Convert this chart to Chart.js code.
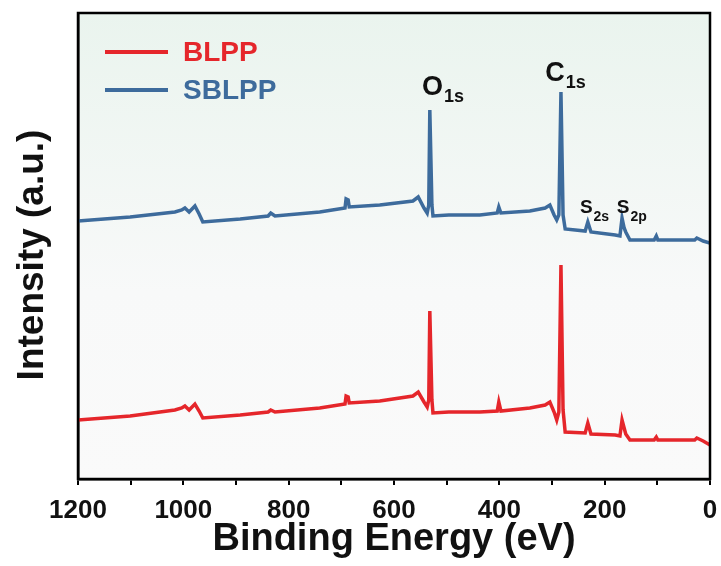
<!DOCTYPE html>
<html>
<head>
<meta charset="utf-8">
<script src="https://cdn.jsdelivr.net/npm/chart.js@4"></script>
<style>
  html, body { margin: 0; padding: 0; background: #fff; }
  #wrap { width: 721px; height: 566px; }
</style>
</head>
<body>
<div id="wrap"><canvas id="xps"></canvas></div>
<script>
// binding energy (eV), shared by both spectra
const energy = [1200, 1101, 1016, 1003, 997, 989, 978, 970, 963, 892, 839, 834, 826, 741, 693, 691, 687, 685,
  627, 564, 554, 543, 537, 534, 532, 528, 526, 496, 437, 404, 401, 397, 342, 313, 304, 296, 291, 287, 283, 279,
  275, 237, 232, 226, 180, 171, 167, 163, 160, 152, 106, 102, 99, 29, 25, 13, 0];

const sblpp = [258, 262, 267, 269, 271, 267, 273, 265, 257, 260, 263, 266, 263, 267, 271, 280, 279, 272,
  274, 278, 282, 271, 266, 274, 369, 274, 263, 264, 264, 266, 272, 266, 268, 271, 274, 264, 259, 264, 387, 264,
  250, 248, 257, 247, 244, 243, 261, 251, 247, 239, 239, 243, 239, 239, 241, 238, 236];

const blpp = [59, 63, 69, 71, 73, 69, 75, 68, 61, 64, 67, 69, 67, 71, 75, 83, 82, 76,
  78, 83, 87, 77, 72, 79, 168, 79, 66, 67, 67, 68, 77, 68, 71, 74, 77, 67, 59, 67, 214, 69,
  47, 46, 56, 45, 44, 43, 59, 51, 45, 39, 39, 42, 39, 39, 41, 38, 34];

const xTicks = [1200, 1000, 800, 600, 400, 200, 0];

// peak labels: [main, subscript, energy, intensity, big?]
const peakLabels = [
  ['O', '1s', 547, 384, true],
  ['C', '1s', 313, 398, true],
  ['S', '2s', 247, 266, false],
  ['S', '2p', 177, 266, false]
];

const RED = '#e5262b';
const BLUE = '#3d6b9c';
const FONT = 'Arial, "Liberation Sans", sans-serif';

const toPts = arr => arr.map((v, i) => ({ x: energy[i], y: v }));

const bgPlugin = {
  id: 'bg',
  beforeDraw(chart) {
    const { ctx, chartArea: a } = chart;
    const g = ctx.createLinearGradient(0, a.top, 0, a.bottom);
    g.addColorStop(0, 'rgb(234,244,238)');
    g.addColorStop(0.6, 'rgb(248,249,249)');
    g.addColorStop(1, 'rgb(250,250,250)');
    ctx.save();
    ctx.fillStyle = g;
    ctx.fillRect(a.left, a.top, a.right - a.left, a.bottom - a.top);
    ctx.restore();
  },
  afterDraw(chart) {
    const { ctx, chartArea: a } = chart;
    ctx.save();
    ctx.strokeStyle = '#000';
    ctx.lineWidth = 2.5;
    ctx.strokeRect(a.left, a.top, a.right - a.left, a.bottom - a.top);
    // y axis title
    ctx.translate(33, 255);
    ctx.rotate(-Math.PI / 2);
    ctx.fillStyle = '#111';
    ctx.font = 'bold 37px ' + FONT;
    ctx.textAlign = 'center';
    ctx.textBaseline = 'middle';
    ctx.fillText('Intensity (a.u.)', 0, 0);
    ctx.restore();
  }
};

const labelPlugin = {
  id: 'labels',
  afterDatasetsDraw(chart) {
    const { ctx } = chart;
    const xs = chart.scales.x, ys = chart.scales.y;
    ctx.save();
    ctx.fillStyle = '#111';
    ctx.textBaseline = 'alphabetic';
    ctx.textAlign = 'left';
    peakLabels.forEach(([main, sub, e, v, big]) => {
      const x = xs.getPixelForValue(e);
      const y = ys.getPixelForValue(v);
      ctx.font = 'bold ' + (big ? 27 : 19) + 'px ' + FONT;
      ctx.fillText(main, x, y);
      const w = ctx.measureText(main).width;
      ctx.font = 'bold ' + (big ? 18 : 14) + 'px ' + FONT;
      ctx.fillText(sub, x + w + 1, y + (big ? 7 : 8));
    });

    // legend
    const items = [['BLPP', RED], ['SBLPP', BLUE]];
    items.forEach(([name, col], i) => {
      const y = 52 + i * 38;
      ctx.strokeStyle = col;
      ctx.lineWidth = 4;
      ctx.beginPath();
      ctx.moveTo(105, y);
      ctx.lineTo(168, y);
      ctx.stroke();
      ctx.fillStyle = col;
      ctx.font = 'bold 28px ' + FONT;
      ctx.textBaseline = 'middle';
      ctx.fillText(name, 183, y + 1);
    });
    ctx.restore();
  }
};

new Chart(document.getElementById('xps'), {
  type: 'line',
  data: {
    datasets: [
      { label: 'BLPP', data: toPts(blpp), borderColor: RED, borderWidth: 3.5, pointRadius: 0, tension: 0 },
      { label: 'SBLPP', data: toPts(sblpp), borderColor: BLUE, borderWidth: 3.5, pointRadius: 0, tension: 0 }
    ]
  },
  options: {
    responsive: true,
    maintainAspectRatio: false,
    animation: false,
    layout: { padding: { top: 13, right: 11, left: 0, bottom: 0 } },
    plugins: { legend: { display: false }, tooltip: { enabled: false } },
    scales: {
      x: {
        type: 'linear',
        reverse: true,
        min: 0,
        max: 1200,
        afterBuildTicks: s => { s.ticks = []; for (let v = 0; v <= 1200; v += 100) s.ticks.push({ value: v }); },
        afterFit: s => { s.height = 87; },
        grid: { drawOnChartArea: false, color: '#000', lineWidth: 2, tickLength: 6 },
        border: { color: '#000', width: 2.5 },
        ticks: {
          color: '#111',
          padding: 10,
          maxRotation: 0,
          autoSkip: false,
          font: { family: FONT, size: 26, weight: 'bold' },
          callback: v => xTicks.includes(v) ? String(v) : ''
        },
        title: {
          display: true,
          text: 'Binding Energy (eV)',
          color: '#111',
          padding: { top: 0 },
          font: { family: FONT, size: 38, weight: 'bold' }
        }
      },
      y: {
        min: 0,
        max: 466,
        afterFit: s => { s.width = 78; },
        grid: { display: false },
        border: { color: '#000', width: 2.5 },
        ticks: { display: false },
        title: { display: false }
      }
    }
  },
  plugins: [bgPlugin, labelPlugin]
});
</script>
</body>
</html>
